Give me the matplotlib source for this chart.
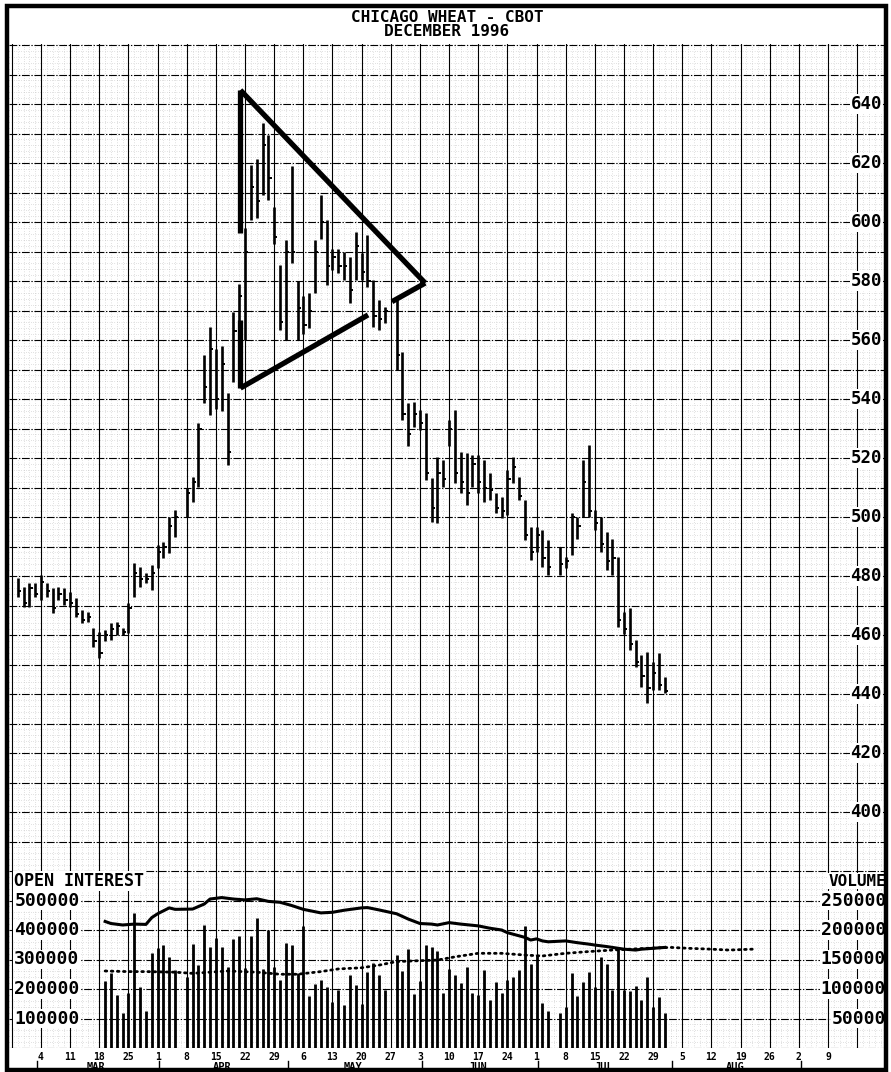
import numpy as np
import matplotlib
matplotlib.use('Agg')
import matplotlib.pyplot as plt
from matplotlib.patches import Rectangle
from matplotlib.transforms import blended_transform_factory

nan = float('nan')

# trading-day index: 0 = Mon 4 Mar 1996, weekdays only (holidays -> nan)
first_day = -4
price_high = [479.2, 476.4, 477.5, 477.5, 480.4, 477.5, 475.8, 476.4, 475.8, 474.7,
              472.4, 468.5, 467.9, 462.3, 461.1, 461.7, 464.0, 464.5, 462.3, 470.7,
              484.3, 483.2, 480.9, 483.7, 490.5, 491.6, 500.1, 502.4, nan, 510.0,
              513.7, 531.8, 555.0, 564.5, 557.0, 558.0, 542.0, 569.6, 579.0, 598.0,
              619.3, 621.5, 633.4, 629.5, 605.2, 585.4, 593.9, 619.0, 580.0, 575.0,
              575.8, 593.9, 609.1, 600.6, 591.0, 591.0, 589.9, 588.2, 596.7, 589.4,
              595.6, 580.3, 573.5, 571.3, nan, 573.5, 556.0, 538.5, 539.0, 536.3,
              535.2, 513.1, 520.5, 519.3, 532.9, 536.3, 522.2, 521.6, 521.0, 521.0,
              519.3, 514.8, 508.0, 506.9, 515.9, 520.5, 513.7, 505.8, 496.7, 496.7,
              495.5, 492.2, nan, 490.0, 486.5, 501.2, 500.1, 519.3, 524.4, 502.3,
              500.0, 495.0, 492.7, 486.5, 467.9, 469.0, 458.3, 453.2, 454.3, 450.9,
              453.8, 445.8]
price_low = [473.0, 469.6, 469.6, 473.0, 471.9, 473.0, 467.4, 471.9, 470.2, 469.6,
             466.2, 464.0, 464.5, 456.1, 452.1, 457.8, 458.3, 460.0, 460.0, 460.6,
             473.0, 476.4, 477.5, 475.3, 482.6, 486.0, 487.7, 493.3, nan, 500.0,
             505.2, 510.3, 538.5, 534.5, 536.5, 536.0, 517.6, 545.8, 546.0, 560.0,
             600.6, 601.2, 609.1, 607.4, 592.7, 563.3, 560.0, 586.0, 560.0, 562.0,
             564.0, 575.8, 594.4, 578.6, 583.7, 582.6, 580.3, 572.4, 580.3, 580.3,
             578.0, 564.5, 563.4, 565.6, nan, 549.8, 533.0, 524.0, 530.6, 529.5,
             512.6, 498.4, 497.9, 510.3, 523.9, 511.4, 508.0, 504.1, 510.3, 508.0,
             505.2, 505.8, 501.3, 499.6, 500.7, 511.4, 505.8, 492.2, 485.4, 488.0,
             483.1, 480.3, nan, 480.3, 482.6, 487.1, 492.7, 500.0, 500.0, 495.5,
             488.0, 482.0, 480.3, 462.8, 460.5, 454.9, 449.2, 442.4, 436.8, 441.3,
             441.3, 440.2]
price_close = [475, 471, 476, 474, 478, 475, 469, 474, 472, 471,
               467, 465, 466, 458, 454, 460, 462, 463, 461, 469,
               481, 479, 479, 481, 488, 490, 497, 500, nan, 508,
               512, 530, 544, 557, 540, 552, 522, 563, 575, 590,
               612, 607, 626, 615, 595, 566, 590, 590, 571, 565,
               570, 590, 600, 585, 588, 585, 585, 577, 592, 583,
               580, 568, 567, 570, nan, 555, 535, 528, 535, 532,
               515, 503, 515, 513, 530, 515, 512, 508, 518, 512,
               510, 509, 503, 502, 513, 517, 507, 494, 488, 494,
               486, 483, nan, 484, 485, 500, 497, 512, 502, 498,
               491, 485, 486, 465, 462, 457, 451, 446, 442, 447,
               443, 441]

# volume (thousands of contracts), from day 11 (Tue 19 Mar)
vol_first_day = 11
volume_k = [114, 127, 90, 59, 93, 229, 103, 63, 161, 170, 175, 154, 133, nan,
            121, 176, 140, 209, 172, 186, 172, 137, 185, 189, 136, 190, 220, 134,
            200, 138, 116, 178, 175, 127, 206, 88, 108, 116, 103, 78, 99, 73, 124,
            107, 75, 129, 144, 124, 99, nan, 158, 130, 168, 92, 114, 175, 172, 164,
            94, 134, 124, 110, 137, 93, 90, 133, 81, 112, 93, 115, 121, 132, 206,
            142, 158, 76, 62, nan, 60, 70, 127, 88, 112, 129, 104, 155, 142, 98,
            169, 98, 96, 105, 81, 120, 70, 87, 60]

# open interest (thousands)
oi_days = [11, 12, 14, 16, 18, 19, 20, 22, 23, 26, 28, 29, 31, 33, 35, 37, 39, 41,
           43, 45, 48, 50, 52, 55, 56, 58, 61, 63, 65, 67, 68, 70, 72, 75, 77, 79,
           80, 83, 84, 85, 86, 87, 90, 92, 94, 95, 97, 99, 100, 102, 103, 105, 107]
oi_k = [429, 422, 417, 420, 419, 442, 455, 475, 470, 471, 488, 505, 510, 505, 502,
        506, 497, 494, 483, 470, 458, 460, 467, 475, 476, 468, 455, 437, 422, 420,
        417, 425, 420, 414, 406, 400, 391, 375, 366, 370, 363, 360, 363, 357, 352,
        349, 344, 338, 335, 332, 335, 338, 341]

# dotted line (average open interest), thousands
avg_days = [11, 15, 18, 23, 26, 32, 37, 41, 44, 48, 51, 55, 58, 61, 65, 68, 71, 75,
            79, 83, 86, 90, 94, 98, 101, 104, 108, 111, 115, 118, 122]
avg_oi_k = [261, 259, 259, 257, 253, 261, 257, 250, 250, 259, 268, 272, 281, 293,
            296, 298, 309, 321, 321, 315, 312, 321, 327, 332, 335, 338, 341, 338,
            335, 332, 335]

# hand drawn triangle (day index, price)
tri_apex = (34.2, 644.7)
tri_left_low = (34.2, 543.7)
tri_right = (65.9, 579.3)
tri_gap_top = 596.3
tri_gap_bot = 566.8
tri_low_end1 = (56.1, 568.5)
tri_low_start2 = (60.2, 573.0)

price_ticks = [400, 420, 440, 460, 480, 500, 520, 540, 560, 580, 600, 620, 640]
oi_ticks = [100000, 200000, 300000, 400000, 500000]
vol_ticks = [50000, 100000, 150000, 200000, 250000]
week_labels = ['4', '11', '18', '25', '1', '8', '15', '22', '29', '6', '13', '20',
               '27', '3', '10', '17', '24', '1', '8', '15', '22', '29', '5', '12',
               '19', '26', '2', '9']
months = ['MAR', 'APR', 'MAY', 'JUN', 'JUL', 'AUG']
month_start = [-1, 20, 42, 65, 85, 108, 130]

W, H = 891, 1072
fig = plt.figure(figsize=(W / 100, H / 100), dpi=100)
fig.patch.set_facecolor('white')
mono = 'DejaVu Sans Mono'

left_px, right_px, top_px, bot_px = 9, 885, 44, 1048
rect = [left_px / W, 1 - bot_px / H, (right_px - left_px) / W, (bot_px - top_px) / H]
px_per_day = 5.83
x0 = 41
xlim = ((left_px - x0) / px_per_day, (right_px - x0) / px_per_day)
ylim = (320, 320 + (bot_px - top_px) / 2.95)

ax = fig.add_axes(rect)
ax.set_xlim(xlim)
ax.set_ylim(ylim)
ax.axis('off')

# grid
for u in range(-5, 145):
    if u % 5 == 0:
        ax.axvline(u, color='black', lw=0.8, zorder=1)
    else:
        ax.axvline(u, color='0.55', lw=0.4, ls=(0, (0.8, 3.5)), zorder=0)
for p in np.arange(320, 662, 2):
    if p % 10 == 0:
        ax.axhline(p, color='black', lw=0.8, ls=(0, (7, 1.5, 1.2, 1.5)), zorder=1)
    else:
        ax.axhline(p, color='0.55', lw=0.4, ls=(0, (0.8, 3.5)), zorder=0)

# price bars
days = np.arange(first_day, first_day + len(price_high))
hi = np.array(price_high, dtype=float)
lo = np.array(price_low, dtype=float)
cl = np.array(price_close, dtype=float)
ok = ~np.isnan(hi)
ax.vlines(days[ok], lo[ok], hi[ok], color='black', lw=1.9, zorder=3)
ax.hlines(cl[ok], days[ok], days[ok] + 0.55, color='black', lw=1.4, zorder=3)

# triangle
tri_kw = dict(color='black', lw=3.8, solid_capstyle='butt', zorder=5)
ax.plot([tri_apex[0], tri_apex[0]], [tri_apex[1], tri_gap_top], **tri_kw)
ax.plot([tri_apex[0], tri_apex[0]], [tri_gap_bot, tri_left_low[1]], **tri_kw)
ax.plot([tri_apex[0], tri_right[0]], [tri_apex[1], tri_right[1]], **tri_kw)
ax.plot([tri_left_low[0], tri_low_end1[0]], [tri_left_low[1], tri_low_end1[1]], **tri_kw)
ax.plot([tri_low_start2[0], tri_right[0]], [tri_low_start2[1], tri_right[1]], **tri_kw)

# lower panel: open interest and volume on their own scales
ax_oi = fig.add_axes(rect, sharex=ax)
ax_oi.set_ylim(0, (bot_px - top_px) / 29.5 * 100000)
ax_oi.axis('off')
ax_oi.patch.set_alpha(0)
ax_oi.plot(oi_days, np.array(oi_k) * 1000, color='black', lw=2.2, zorder=4)
ax_oi.plot(avg_days, np.array(avg_oi_k) * 1000, color='black', lw=2.0,
           ls=(0, (0.6, 1.6)), dash_capstyle='round', zorder=4)

ax_vol = fig.add_axes(rect, sharex=ax)
ax_vol.set_ylim(0, (bot_px - top_px) / 29.5 * 50000)
ax_vol.axis('off')
ax_vol.patch.set_alpha(0)
vdays = np.arange(vol_first_day, vol_first_day + len(volume_k))
vol = np.array(volume_k, dtype=float) * 1000
vok = ~np.isnan(vol)
ax_vol.vlines(vdays[vok], 0, vol[vok], color='black', lw=2.0, zorder=3)

# axis labels
lab_kw = dict(family=mono, weight='bold', color='black', zorder=6)
box = dict(facecolor='white', edgecolor='none', pad=0.6)
tr = blended_transform_factory(ax.transAxes, ax.transData)
for p in price_ticks:
    ax.text(0.9966, p, str(p), transform=tr, ha='right', va='center', fontsize=12.5,
            bbox=box, **lab_kw)
tr_oi = blended_transform_factory(ax_oi.transAxes, ax_oi.transData)
for v in oi_ticks:
    ax_oi.text(0.006, v, str(v), transform=tr_oi, ha='left', va='center',
               fontsize=13, bbox=box, **lab_kw)
ax_oi.text(0.006, 566000, 'OPEN INTEREST', transform=tr_oi, ha='left', va='center',
           fontsize=12, bbox=box, **lab_kw)
tr_vol = blended_transform_factory(ax_vol.transAxes, ax_vol.transData)
for v in vol_ticks:
    ax_vol.text(1.001, v, str(v), transform=tr_vol, ha='right', va='center',
                fontsize=13, bbox=box, **lab_kw)
ax_vol.text(1.001, 283000, 'VOLUME', transform=tr_vol, ha='right', va='center',
            fontsize=11.5, bbox=box, **lab_kw)

# date axis
hgt = bot_px - top_px
tr_x = blended_transform_factory(ax.transData, ax.transAxes)
for k, lab in enumerate(week_labels):
    ax.text(5 * k, -9.5 / hgt, lab, transform=tr_x, ha='center', va='center',
            fontsize=7, clip_on=False, **lab_kw)
for ms in month_start:
    ax.plot([ms + 0.3, ms + 0.3], [-13 / hgt, -24 / hgt], transform=tr_x,
            color='black', lw=1.0, clip_on=False)
for k, m in enumerate(months):
    mid = (month_start[k] + month_start[k + 1]) / 2
    ax.text(mid, -19.5 / hgt, m, transform=tr_x, ha='center', va='center',
            fontsize=7.5, clip_on=False, **lab_kw)

# title
fig.text(447 / W, 1 - 17 / H, 'CHICAGO WHEAT - CBOT', ha='center', va='center',
         fontsize=11.5, family=mono, weight='bold')
fig.text(447 / W, 1 - 32 / H, 'DECEMBER 1996', ha='center', va='center',
         fontsize=11.5, family=mono, weight='bold')

# frame
fig.patches.append(Rectangle((7 / W, 1 - 1070 / H), 879 / W, 1064 / H,
                             transform=fig.transFigure, fill=False,
                             edgecolor='black', lw=3.2, zorder=10))

fig.savefig('out.png', dpi=100, facecolor='white')
